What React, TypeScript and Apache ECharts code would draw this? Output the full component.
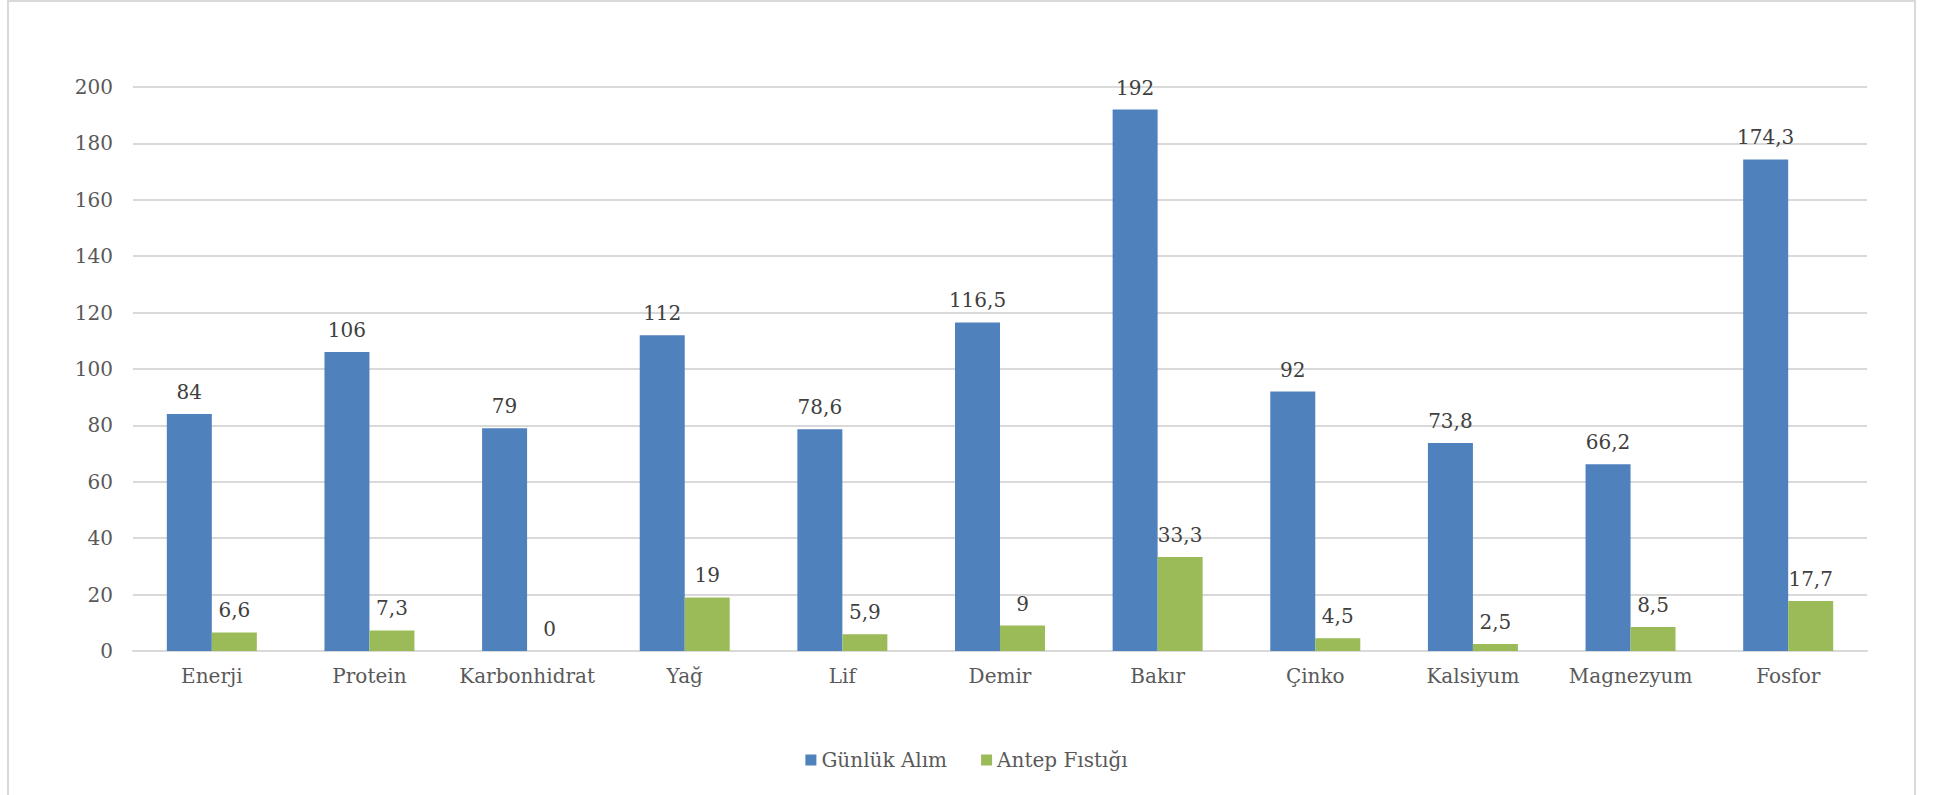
import React, { useEffect, useRef } from "react";
import * as echarts from "echarts";

const categories = ["Enerji", "Protein", "Karbonhidrat", "Yağ", "Lif", "Demir", "Bakır", "Çinko", "Kalsiyum", "Magnezyum", "Fosfor"];
const gunlukAlim = [84, 106, 79, 112, 78.6, 116.5, 192, 92, 73.8, 66.2, 174.3];
const antepFistigi = [6.6, 7.3, 0, 19, 5.9, 9, 33.3, 4.5, 2.5, 8.5, 17.7];
const seriesNames = ["Günlük Alım", "Antep Fıstığı"];

const FONT = "DejaVu Serif";

export default function App() {
  const ref = useRef<HTMLDivElement>(null);
  useEffect(() => {
    if (!ref.current) return;
    const chart = echarts.init(ref.current, undefined, { renderer: "svg" });
    const labelCfg = {
      show: true,
      position: "top" as const,
      distance: 12,
      fontFamily: FONT,
      fontSize: 20,
      color: "#404040",
      formatter: (p: any) => String(p.value).replace(".", ","),
    };
    chart.setOption({
      animation: false,
      backgroundColor: "#ffffff",
      textStyle: { fontFamily: FONT },
      graphic: [
        {
          type: "rect",
          shape: { x: 8, y: 1, width: 1907, height: 820 },
          style: { fill: "none", stroke: "#d9d9d9", lineWidth: 2 },
          silent: true,
        },
      ],
      grid: { left: 133, right: 66, top: 87, bottom: 144, containLabel: false },
      legend: {
        data: seriesNames,
        bottom: 20,
        left: "center",
        itemWidth: 11,
        itemHeight: 11,
        itemGap: 34,
        icon: "rect",
        textStyle: { fontFamily: FONT, fontSize: 20, color: "#595959" },
      },
      xAxis: {
        type: "category",
        data: categories,
        axisLine: { lineStyle: { color: "#d9d9d9", width: 2 } },
        axisTick: { show: false },
        axisLabel: { interval: 0, fontFamily: FONT, fontSize: 20, color: "#595959", margin: 15 },
      },
      yAxis: {
        type: "value",
        min: 0,
        max: 200,
        interval: 20,
        axisLine: { show: false },
        axisTick: { show: false },
        splitLine: { lineStyle: { color: "#d9d9d9", width: 2 } },
        axisLabel: { fontFamily: FONT, fontSize: 20, color: "#595959", margin: 20 },
      },
      series: [
        {
          name: seriesNames[0],
          type: "bar",
          data: gunlukAlim,
          barWidth: 45,
          barGap: "0%",
          itemStyle: { color: "#4F81BD" },
          label: labelCfg,
        },
        {
          name: seriesNames[1],
          type: "bar",
          data: antepFistigi,
          barWidth: 45,
          barGap: "0%",
          itemStyle: { color: "#9BBB59" },
          label: labelCfg,
        },
      ],
    });
    return () => chart.dispose();
  }, []);
  return (
    <div
      ref={ref}
      style={{ position: "fixed", left: 0, top: 0, width: 1933, height: 795 }}
    />
  );
}
